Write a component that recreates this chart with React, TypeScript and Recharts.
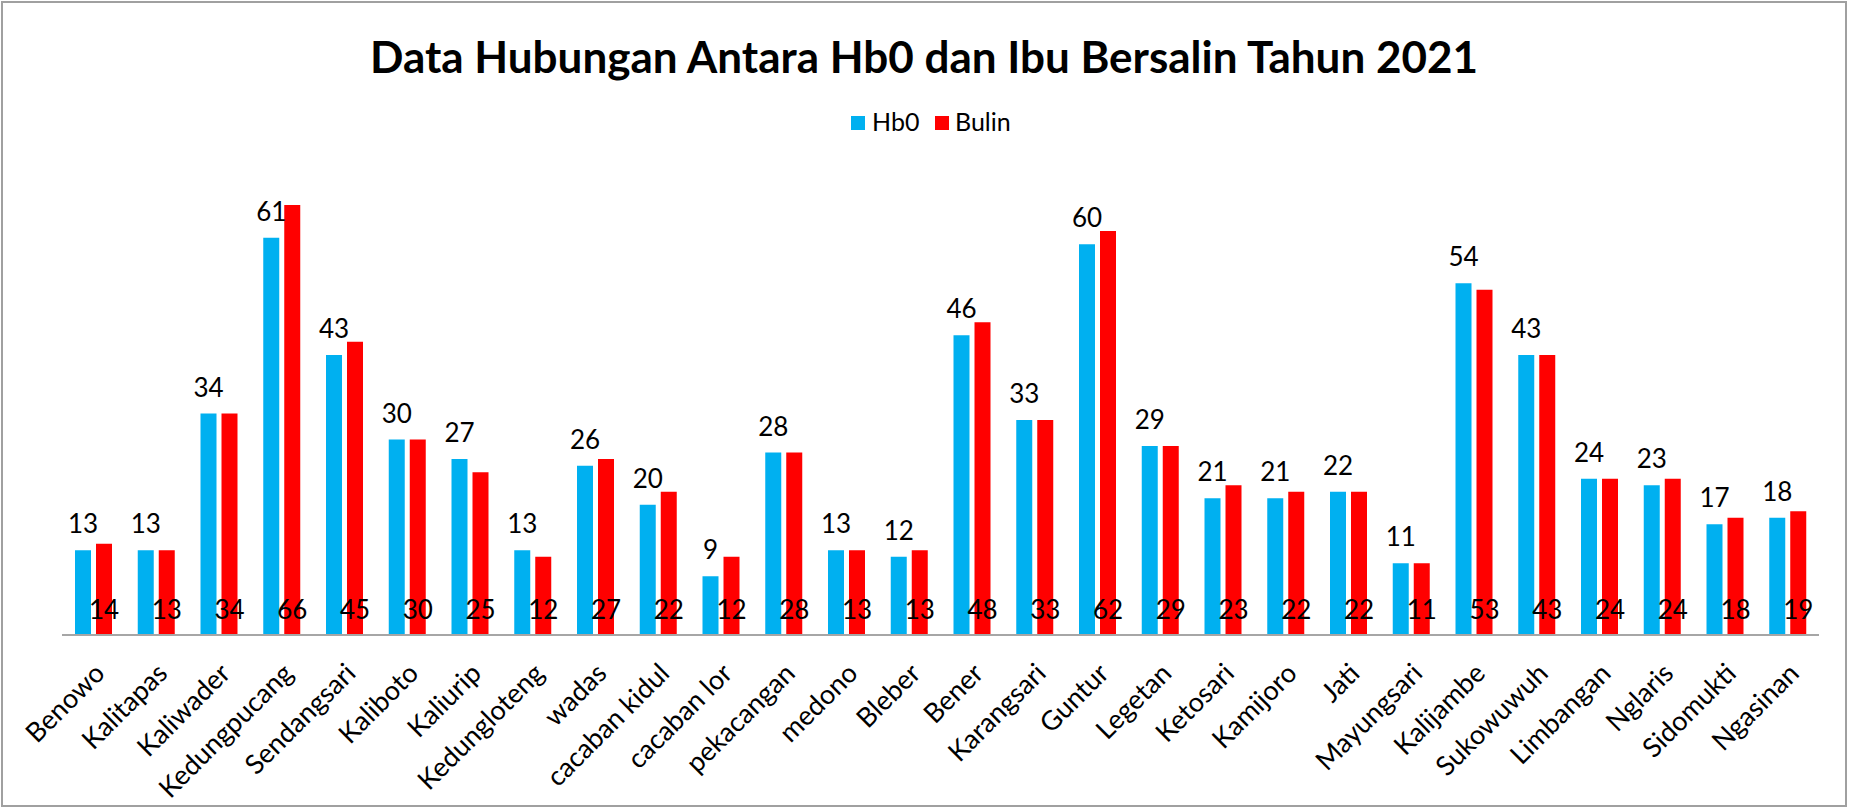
import React from 'react';
import { BarChart, Bar, XAxis, YAxis, LabelList, Legend } from 'recharts';

const categories = [
  'Benowo', 'Kalitapas', 'Kaliwader', 'Kedungpucang', 'Sendangsari', 'Kaliboto', 'Kaliurip',
  'Kedungloteng', 'wadas', 'cacaban kidul', 'cacaban lor', 'pekacangan', 'medono', 'Bleber',
  'Bener', 'Karangsari', 'Guntur', 'Legetan', 'Ketosari', 'Kamijoro', 'Jati', 'Mayungsari',
  'Kalijambe', 'Sukowuwuh', 'Limbangan', 'Nglaris', 'Sidomukti', 'Ngasinan',
];
const hb0Values = [13, 13, 34, 61, 43, 30, 27, 13, 26, 20, 9, 28, 13, 12, 46, 33, 60, 29, 21, 21, 22, 11, 54, 43, 24, 23, 17, 18];
const bulinValues = [14, 13, 34, 66, 45, 30, 25, 12, 27, 22, 12, 28, 13, 13, 48, 33, 62, 29, 23, 22, 22, 11, 53, 43, 24, 24, 18, 19];
const seriesNames = ['Hb0', 'Bulin'];
const titleText = 'Data Hubungan Antara Hb0 dan Ibu Bersalin Tahun 2021';

const BLUE = '#00B0F0';
const RED = '#FF0000';
const FONT = 'Lato, "Open Sans", sans-serif';

const data = categories.map((name, i) => ({ name, hb0: hb0Values[i], bulin: bulinValues[i] }));

const Tick = (props: any) => {
  const { x, y, payload } = props;
  return (
    <g transform={`translate(${x + 13},${y + 40}) rotate(-45)`}>
      <text x={0} y={0} textAnchor="end" fontFamily={FONT} fontSize={27} fill="#000">
        {payload.value}
      </text>
    </g>
  );
};

const LegendContent = (props: any) => {
  const payload = props.payload || [];
  const hb = payload.find((p: any) => p.dataKey === 'hb0');
  const bu = payload.find((p: any) => p.dataKey === 'bulin');
  return (
    <svg width={1849} height={40} style={{ display: 'block' }}>
      <rect x={851} y={9} width={14} height={14} fill={hb ? hb.color : BLUE} />
      <text x={872} y={24} fontFamily={FONT} fontSize={25} fill="#000">{hb ? hb.value : seriesNames[0]}</text>
      <rect x={935} y={9} width={14} height={14} fill={bu ? bu.color : RED} />
      <text x={955} y={24} fontFamily={FONT} fontSize={25} fill="#000">{bu ? bu.value : seriesNames[1]}</text>
    </svg>
  );
};

export default function App() {
  return (
    <div style={{ position: 'absolute', left: 0, top: 0, width: 1849, height: 807, background: '#fff' }}>
      <div
        style={{
          position: 'absolute', left: 1, top: 1, width: 1846, height: 806,
          border: '2px solid #a0a0a0', boxSizing: 'border-box',
        }}
      />
      <svg width={1849} height={100} style={{ position: 'absolute', left: 0, top: 0 }}>
        <text x={924} y={73} textAnchor="middle" fontFamily={FONT} fontWeight="bold" fontSize={44} fill="#000">
          {titleText}
        </text>
      </svg>
      <div style={{ position: 'absolute', left: 0, top: 0 }}>
        <BarChart
          width={1849}
          height={807}
          data={data}
          margin={{ top: 179, right: 30, bottom: 22, left: 62 }}
          barSize={16}
          barGap={5}
        >
          <XAxis
            dataKey="name"
            interval={0}
            tickLine={false}
            tickSize={0}
            tickMargin={0}
            height={150}
            axisLine={{ stroke: '#a6a6a6', strokeWidth: 2 }}
            tick={<Tick />}
          />
          <YAxis hide domain={[0, 70]} />
          <Legend
            layout="horizontal"
            verticalAlign="middle"
            align="center"
            content={<LegendContent />}
            wrapperStyle={{ position: 'absolute', top: 107, left: 0, width: 1849, height: 40 }}
          />
          <Bar dataKey="hb0" name={seriesNames[0]} fill={BLUE} isAnimationActive={false}>
            <LabelList dataKey="hb0" position="top" offset={17} fill="#000" fontSize={26} fontFamily={FONT} />
          </Bar>
          <Bar dataKey="bulin" name={seriesNames[1]} fill={RED} isAnimationActive={false}>
            <LabelList dataKey="bulin" position="insideBottom" offset={16} fill="#000" fontSize={26} fontFamily={FONT} />
          </Bar>
        </BarChart>
      </div>
    </div>
  );
}
